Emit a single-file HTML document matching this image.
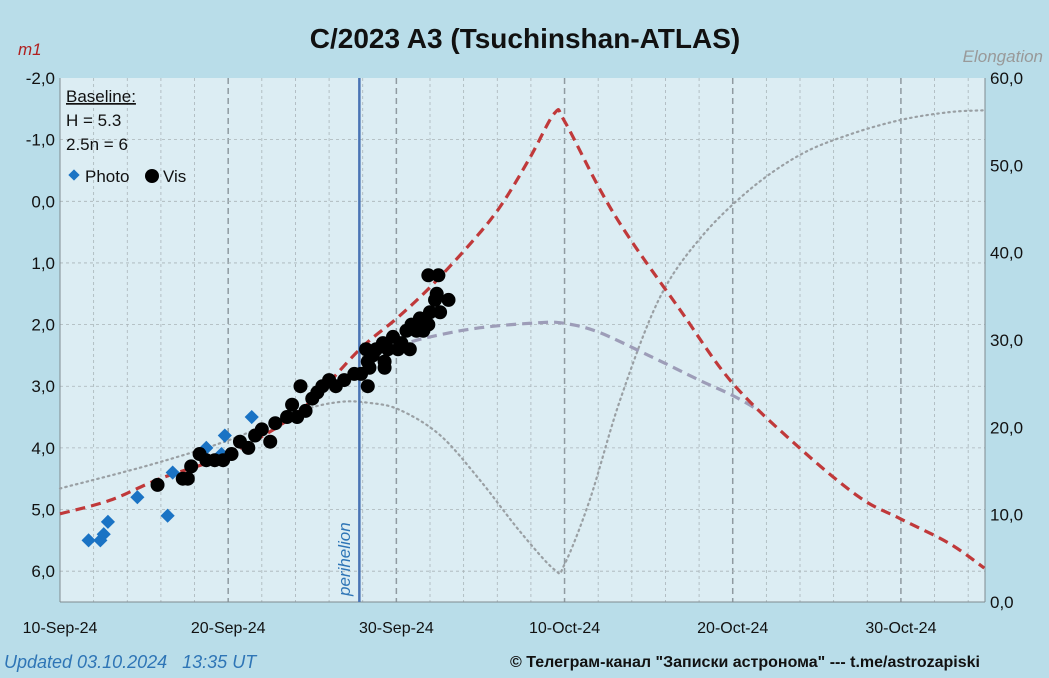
<!DOCTYPE html>
<html><head><meta charset="utf-8"><style>
body{margin:0;background:#b9dde9;}
svg{display:block;font-family:"Liberation Sans","DejaVu Sans",sans-serif;}
</style></head><body>
<svg id="c" width="1049" height="678" viewBox="0 0 1049 678">
<rect x="0" y="0" width="1049" height="678" fill="#b9dde9"/>
<rect x="60" y="78" width="925" height="524" fill="#dcedf3"/>
<g id="grid"></g>
<g id="series"></g>
<text x="525" y="48" text-anchor="middle" font-size="28" font-weight="bold" fill="#111">C/2023 A3 (Tsuchinshan-ATLAS)</text>
<text x="18" y="55" font-size="17" font-style="italic" fill="#b02020">m1</text>
<text x="1043" y="62" text-anchor="end" font-size="17" font-style="italic" fill="#999">Elongation</text>
<g font-size="17" fill="#111">
<text x="66" y="102" text-decoration="underline">Baseline:</text>
<text x="66" y="126">H = 5.3</text>
<text x="66" y="150">2.5n = 6</text>
<rect x="70" y="171" width="8" height="8" fill="#1a73c4" transform="rotate(45 74 175)"/>
<text x="85" y="182">Photo</text>
<circle cx="152" cy="176" r="7" fill="#000"/>
<text x="163" y="182">Vis</text>
</g>
<text transform="translate(350,596) rotate(-90)" font-size="17" font-style="italic" fill="#2e75b6">perihelion</text>
<text x="4" y="668" font-size="18" font-style="italic" fill="#2e75b6">Updated 03.10.2024 &#160; 13:35 UT</text>
<text x="510" y="667" font-size="16" font-weight="bold" fill="#111">© Телеграм-канал "Записки астронома" --- t.me/astrozapiski</text>
</svg>
<script>
const xTickLabels=["10-Sep-24","20-Sep-24","30-Sep-24","10-Oct-24","20-Oct-24","30-Oct-24"];
const yLeftTicks=[-2,-1,0,1,2,3,4,5,6];
const yRightTicks=[0,10,20,30,40,50,60];
const perihelionDay=17.8;
const photoDays=[1.7,2.4,2.6,2.85,4.6,6.4,6.7,8.7,9.6,9.8,11.4];
const photoMags=[5.5,5.5,5.4,5.2,4.8,5.1,4.4,4.0,4.1,3.8,3.5];
const visDays=[5.8,7.3,7.6,7.8,8.3,8.7,9.2,9.7,10.2,10.7,11.2,11.6,12.0,12.5,12.8,13.5,13.8,14.3,14.1,14.6,15.0,15.3,15.6,16.0,16.4,16.9,17.5,17.9,18.2,18.3,18.4,18.6,18.8,19.2,19.3,19.5,19.8,20.1,20.3,20.6,20.8,20.9,21.2,21.4,21.6,21.7,21.9,22.0,22.3,22.4,21.9,22.5,22.6,23.1,19.3,18.3];
const visMags=[4.6,4.5,4.5,4.3,4.1,4.2,4.2,4.2,4.1,3.9,4.0,3.8,3.7,3.9,3.6,3.5,3.3,3.0,3.5,3.4,3.2,3.1,3.0,2.9,3.0,2.9,2.8,2.8,2.4,3.0,2.7,2.5,2.4,2.3,2.6,2.4,2.2,2.4,2.3,2.1,2.4,2.0,2.1,1.9,2.1,2.0,2.0,1.8,1.6,1.5,1.2,1.2,1.8,1.6,2.7,2.6];
const modelDays=[0,2.97,5.94,10.04,14.26,17.83,20.02,21.98,24.36,26.14,27.93,29.41,30.0,32.09,33.87,36.84,39.99,43.97,47.53,49.97,52.88,54.96];
const modelMags=[5.07,4.85,4.5,4.1,3.4,2.4,1.9,1.4,0.7,0.1,-0.7,-1.43,-1.3,-0.2,0.6,1.75,2.95,4.0,4.8,5.15,5.55,5.95];
const altDays=[20,22,25,28.5,30,32,35,38,40,41.6];
const altMags=[2.35,2.2,2.05,1.97,1.98,2.12,2.5,2.9,3.15,3.4];
const elongDays=[0,5.35,10,14.2,16.6,18.4,20.2,22.6,24.95,27.3,29.4,30,31.5,33.3,35.6,38,41,44,46.9,50,52.9,55];
const elongVals=[13.0,15.7,18.5,21.8,22.9,22.8,22.0,19.1,14.0,8.2,3.7,4.3,11.7,23.1,34.6,41.5,47.2,51.2,53.5,55.2,56.1,56.3];

const L=60,R=985,T=78,B=602;
const X=d=>L+d*(R-L)/55;
const Y=m=>T+(m+2)*(B-T)/8.5;
const Y2=e=>B-e*(B-T)/60;
const NS="http://www.w3.org/2000/svg";
function mk(p,tag,at){const e=document.createElementNS(NS,tag);for(const k in at)e.setAttribute(k,at[k]);p.appendChild(e);return e;}
const g=document.getElementById('grid'),s=document.getElementById('series'),svg=document.getElementById('c');
for(let d=2;d<55;d+=2){const major=d%10===0;
 const l=mk(g,'line',{x1:X(d),x2:X(d),y1:T,y2:B,stroke:major?'#8f9aa0':'#a9b4b8','stroke-width':major?1.5:0.8,'stroke-dasharray':major?'6,4':'3,3'});
 
 }
yLeftTicks.forEach(m=>{if(m===-2)return;const l=mk(g,'line',{x1:L,x2:R,y1:Y(m),y2:Y(m),stroke:'#a9b4b8','stroke-width':0.8,'stroke-dasharray':'3,3'});
 
 });
mk(g,'line',{x1:L,x2:L,y1:T,y2:B,stroke:'#7f8a90','stroke-width':1});
mk(g,'line',{x1:R,x2:R,y1:T,y2:B,stroke:'#7f8a90','stroke-width':1});
mk(g,'line',{x1:L,x2:R,y1:B,y2:B,stroke:'#7f8a90','stroke-width':1});
yLeftTicks.forEach(m=>{const t=mk(svg,'text',{x:55,y:Y(m)+6,'text-anchor':'end','font-size':17,fill:'#111'});t.textContent=m.toFixed(1).replace('.',',');
 
 });
yRightTicks.forEach(e=>{const t=mk(svg,'text',{x:990,y:Y2(e)+6,'font-size':17,fill:'#111'});t.textContent=e.toFixed(1).replace('.',',');
 
 });
xTickLabels.forEach((lb,i)=>{const t=mk(svg,'text',{x:X(i*10),y:633,'text-anchor':'middle','font-size':16,fill:'#111'});t.textContent=lb;
 
 });
function path(xs,ys,yf){
 const p=xs.map((d,i)=>[X(d),yf(ys[i])]);
 let s='M'+p[0][0].toFixed(1)+','+p[0][1].toFixed(1);
 for(let i=0;i<p.length-1;i++){
  const p0=p[Math.max(0,i-1)],p1=p[i],p2=p[i+1],p3=p[Math.min(p.length-1,i+2)];
  const c1=[p1[0]+(p2[0]-p0[0])/6,p1[1]+(p2[1]-p0[1])/6];
  const c2=[p2[0]-(p3[0]-p1[0])/6,p2[1]-(p3[1]-p1[1])/6];
  s+=` C${c1[0].toFixed(1)},${c1[1].toFixed(1)} ${c2[0].toFixed(1)},${c2[1].toFixed(1)} ${p2[0].toFixed(1)},${p2[1].toFixed(1)}`;
 }
 return s;}
const el=mk(s,'path',{d:path(elongDays,elongVals,Y2),fill:'none',stroke:'#9aa0a4','stroke-width':2.2,'stroke-dasharray':'1.5,4','stroke-linecap':'round'});


const al=mk(s,'path',{d:path(altDays,altMags,Y),fill:'none',stroke:'#9d9db8','stroke-width':3.2,'stroke-dasharray':'10,6'});


const ml=mk(s,'path',{d:path(modelDays,modelMags,Y),fill:'none',stroke:'#c0393a','stroke-width':3.2,'stroke-dasharray':'10,6'});


const pl=mk(s,'line',{x1:X(perihelionDay),x2:X(perihelionDay),y1:T,y2:B,stroke:'#4a74b4','stroke-width':2.5});


photoDays.forEach((d,i)=>{const x=X(d),y=Y(photoMags[i]);const r=mk(s,'rect',{x:x-5,y:y-5,width:10,height:10,fill:'#1a73c4',transform:`rotate(45 ${x} ${y})`});
 
 });
visDays.forEach((d,i)=>{const c=mk(s,'circle',{cx:X(d),cy:Y(visMags[i]),r:7,fill:'#000'});
 
 });
</script>
</body></html>
